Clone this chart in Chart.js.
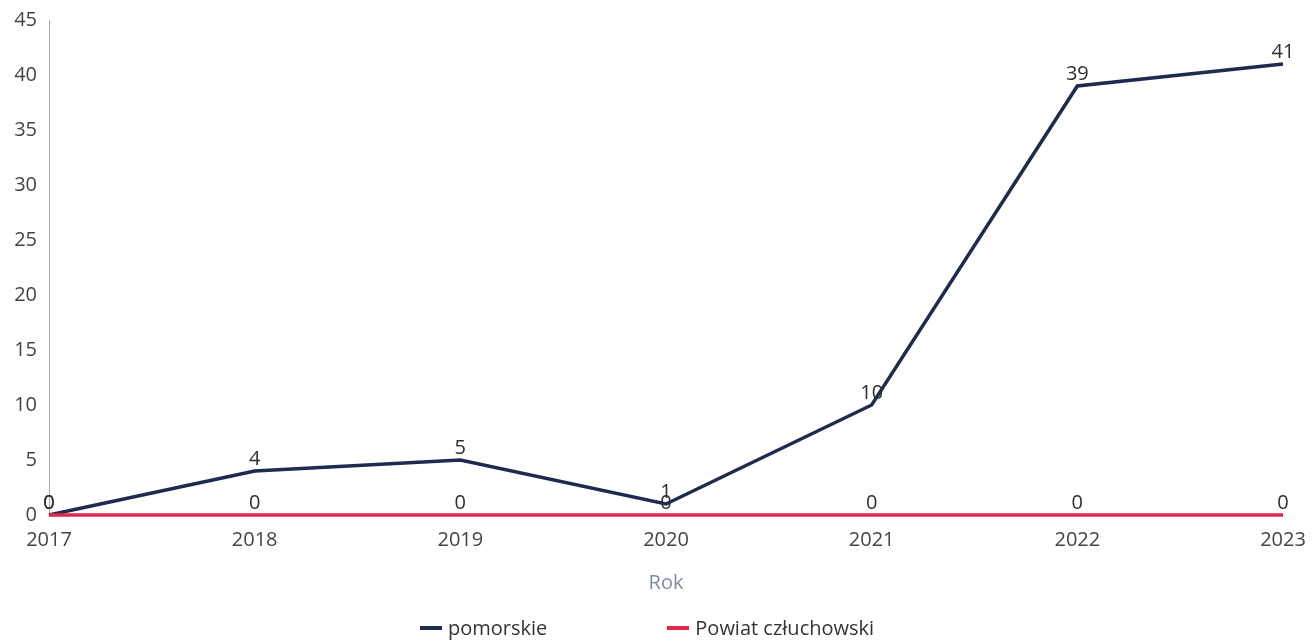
<!DOCTYPE html>
<html>
<head>
<meta charset="utf-8">
<script src="https://cdn.jsdelivr.net/npm/chart.js@4"></script>
<style>
  html, body { margin:0; padding:0; background:#fff; }
  #wrap { position:relative; width:1312px; height:640px; overflow:hidden; }
  #c { position:absolute; left:0; top:0; }
  #legend { position:absolute; left:420px; top:616px; display:flex; gap:120px; font-family:"Open Sans", sans-serif; font-size:20px; color:#333; line-height:24px; }
  .item { display:flex; align-items:center; }
  .mk { display:inline-block; width:22px; height:4px; margin-right:6px; }
</style>
</head>
<body>
<div id="wrap">
  <canvas id="c" width="1312" height="640"></canvas>
  <div id="legend"></div>
</div>
<script>
const years = ['2017', '2018', '2019', '2020', '2021', '2022', '2023'];
const pomorskie = [0, 4, 5, 1, 10, 39, 41];
const powiat = [0, 0, 0, 0, 0, 0, 0];
const seriesNames = ['pomorskie', 'Powiat człuchowski'];
const seriesColors = ['#1e2a4e', '#e3264d'];
const axisTitle = 'Rok';

const valueLabels = {
  id: 'valueLabels',
  afterDatasetsDraw(chart) {
    const ctx = chart.ctx;
    chart.data.datasets.forEach((ds, i) => {
      const meta = chart.getDatasetMeta(i);
      meta.data.forEach((pt, j) => {
        ctx.save();
        ctx.font = '20px "Open Sans"';
        ctx.fillStyle = '#2e2e2e';
        ctx.textAlign = 'center';
        ctx.textBaseline = 'middle';
        ctx.fillText(String(ds.data[j]), pt.x, pt.y - 12);
        ctx.restore();
      });
    });
  }
};

new Chart(document.getElementById('c'), {
  type: 'line',
  data: {
    labels: years,
    datasets: [
      { label: seriesNames[0], data: pomorskie, borderColor: seriesColors[0], backgroundColor: seriesColors[0], borderWidth: 3.5, pointRadius: 0, tension: 0, order: 1, clip: false },
      { label: seriesNames[1], data: powiat, borderColor: seriesColors[1], backgroundColor: seriesColors[1], borderWidth: 3.5, pointRadius: 0, tension: 0, order: 0, clip: false }
    ]
  },
  options: {
    responsive: false,
    animation: false,
    events: [],
    layout: { padding: { top: 20, right: 29, bottom: 40, left: 0 } },
    plugins: { legend: { display: false }, tooltip: { enabled: false } },
    scales: {
      x: {
        offset: false,
        grid: { display: false, drawTicks: false },
        border: { display: false },
        ticks: { color: '#444', font: { family: 'Open Sans', size: 20 }, padding: 13, maxRotation: 0, autoSkip: false },
        title: { display: true, text: axisTitle, color: '#8089b0', font: { family: 'Open Sans', size: 20 }, padding: { top: 0, bottom: 5 } },
        afterFit(s) { s.height = 85; s.paddingLeft = 0; s.paddingRight = 0; }
      },
      y: {
        min: 0, max: 45,
        grid: { display: false, drawTicks: false },
        border: { display: true, color: '#a8a8a8', width: 1 },
        ticks: { stepSize: 5, color: '#444', font: { family: 'Open Sans', size: 20 }, padding: 12 },
        afterFit(s) { s.width = 49; s.paddingTop = 0; s.paddingBottom = 0; }
      }
    }
  },
  plugins: [valueLabels]
});

const leg = document.getElementById('legend');
seriesNames.forEach((n, i) => {
  const it = document.createElement('div'); it.className = 'item';
  const mk = document.createElement('span'); mk.className = 'mk'; mk.style.background = seriesColors[i];
  const tx = document.createElement('span'); tx.textContent = n;
  it.appendChild(mk); it.appendChild(tx); leg.appendChild(it);
});
</script>
</body>
</html>
